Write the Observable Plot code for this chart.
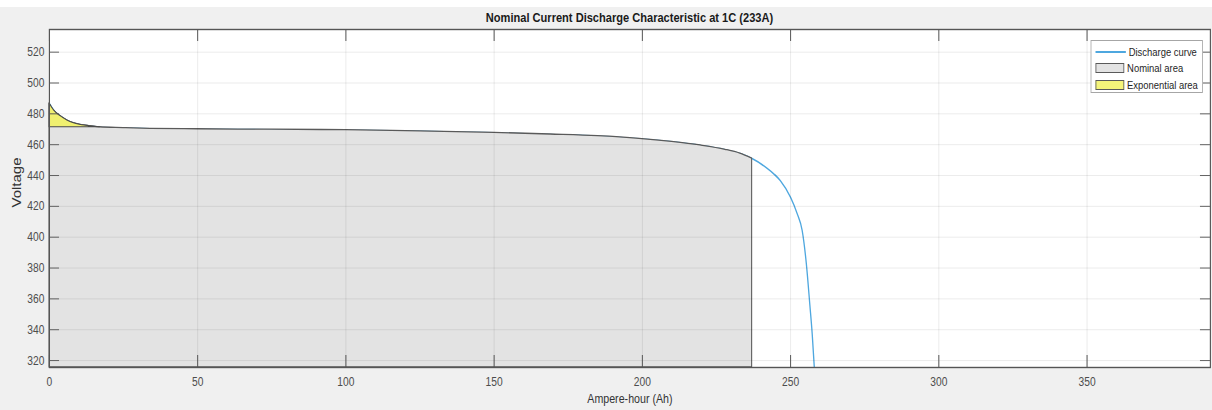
<!DOCTYPE html>
<html>
<head>
<meta charset="utf-8">
<script src="https://cdn.jsdelivr.net/npm/d3@7"></script>
<script src="https://cdn.jsdelivr.net/npm/@observablehq/plot@0.6"></script>
<style>
  html, body { margin: 0; padding: 0; overflow: hidden; }
  body { width: 1212px; height: 410px;
         background: linear-gradient(#ffffff 0 7px, #f0f0f0 7px); }
  #wrap { position: relative; height: 410px; transform-origin: 0 0; }
  #title { box-sizing: border-box; height: 24px; padding-top: 10px; line-height: 14px;
           text-align: center; font: bold 13.5px "Liberation Sans", Arial, sans-serif;
           color: #1a1a1a; white-space: nowrap; }
  #legend { position: absolute; top: 40px; height: 53px; box-sizing: border-box;
            background: #ffffff; border: 1px solid #a6a6a6; white-space: nowrap;
            font: 11.5px "Liberation Sans", Arial, sans-serif; color: #262626; }
  .row { position: absolute; left: 5px; height: 14px; display: flex; align-items: center; }
  .sw { width: 35px; height: 10px; margin-right: 3px; box-sizing: border-box; }
  .ln { width: 37px; height: 1.5px; background: #4ea7df; margin-right: 3px; }
</style>
</head>
<body>
<div id="wrap">
  <div id="title"></div>
  <div id="chart"></div>
  <div id="legend"></div>
</div>
<script>
// ---- data ----
const titleText = "Nominal Current Discharge Characteristic at 1C (233A)";
const xLabel = "Ampere-hour (Ah)";
const yLabel = "Voltage";
const legendLabels = ["Discharge curve", "Nominal area", "Exponential area"];

const ampHours = [0, 1.5, 3.7, 6, 8.2, 11, 13.8, 17, 25, 34, 50, 75, 100, 125, 150, 169, 185, 199, 210, 219.6, 228, 233, 237, 242, 244.5, 246.5, 250, 252.2, 253.9, 255.3, 256.5, 257.3, 258];
const voltages = [486.7, 482.2, 478.5, 475.7, 473.9, 472.6, 472.0, 471.3, 470.8, 470.3, 470.0, 469.7, 469.4, 468.6, 467.7, 466.6, 465.5, 463.8, 461.8, 459.5, 456.7, 454.2, 451.0, 444.8, 440.8, 436.8, 425.8, 415.4, 404.4, 383.0, 356.0, 337.0, 315.5];

const nominalEnd = 237;     // end of nominal area (Ah)
const expEnd = 17;          // end of exponential area (Ah)
const vExp = 471.3;         // exponential area bottom voltage

const xTicks = [0, 50, 100, 150, 200, 250, 300, 350];
const yTicks = [320, 340, 360, 380, 400, 420, 440, 460, 480, 500, 520];
const xDomain = [0, 391.6];
const yDomain = [315.5, 534.7];

// ---- build ----
const curve = ampHours.map((a, i) => ({ah: a, v: voltages[i]}));
const nominal = curve.filter(d => d.ah <= nominalEnd);
const expo = curve.filter(d => d.ah <= expEnd);

// the reference is horizontally compressed; draw wider and squeeze
const S = 0.82;
const W = 1212 / S, H = 386, ML = 49 / S, MR = 2 / S, MT = 5, MB = 43;
const innerW = W - ML - MR, innerH = H - MT - MB;
const axisColor = "#555555";
const font = '"Liberation Sans", Arial, sans-serif';

const wrap = document.getElementById("wrap");
wrap.style.width = W + "px";
wrap.style.transform = `scaleX(${S})`;
const title = document.getElementById("title");
title.style.paddingLeft = ML + "px";
title.style.paddingRight = MR + "px";
title.textContent = titleText;

const chart = Plot.plot({
  width: W, height: H,
  marginLeft: ML, marginRight: MR, marginTop: MT, marginBottom: MB,
  style: {background: "transparent", fontFamily: font, fontSize: "12px", color: "#4d4d4d"},
  x: {domain: xDomain, axis: null},
  y: {domain: yDomain, axis: null},
  marks: [
    Plot.frame({fill: "#ffffff", stroke: null}),
    Plot.line(curve, {x: "ah", y: "v", stroke: "#4ea7df", strokeWidth: 1.6, curve: "monotone-x", clip: true}),
    Plot.areaY(nominal, {x: "ah", y1: yDomain[0], y2: "v", curve: "monotone-x", fill: "#e3e3e3", stroke: "#5a5a5a", strokeWidth: 1.3}),
    Plot.areaY(expo, {x: "ah", y1: vExp, y2: "v", curve: "monotone-x", fill: "#f0f070", stroke: "#4a4a4a", strokeWidth: 1.1}),
    Plot.gridX(xTicks, {stroke: "#000", strokeOpacity: 0.09}),
    Plot.gridY(yTicks, {stroke: "#000", strokeOpacity: 0.09}),
    Plot.ruleX(xTicks, {x: d => d, insetTop: innerH - 12, stroke: axisColor, strokeWidth: 1.2}),
    Plot.ruleX(xTicks, {x: d => d, insetBottom: innerH - 12, stroke: axisColor, strokeWidth: 1.2}),
    Plot.ruleY(yTicks, {y: d => d, insetRight: innerW - 10 / S, stroke: axisColor}),
    Plot.ruleY(yTicks, {y: d => d, insetLeft: innerW - 10 / S, stroke: axisColor}),
    Plot.frame({stroke: axisColor, strokeWidth: 1.4}),
    Plot.axisX(xTicks, {tickSize: 0, tickPadding: 10, label: null, fontSize: 12.5, fill: "#4d4d4d"}),
    Plot.axisY(yTicks, {tickSize: 0, tickPadding: 5 / S, label: null, fontSize: 12.5, fill: "#4d4d4d"}),
    Plot.text([xLabel], {text: d => d, frameAnchor: "bottom", dy: 36, fontSize: 13, fill: "#333333"}),
    Plot.text([yLabel], {text: d => d, frameAnchor: "left", rotate: -90, dx: -32 / S, dy: 9, fontSize: 15, fill: "#333333"})
  ]
});
document.getElementById("chart").appendChild(chart);

// ---- legend ----
const legend = document.getElementById("legend");
legend.style.left = (1091 / S) + "px";
legend.style.width = (112 / S) + "px";
const swatches = [
  '<span class="ln"></span>',
  '<span class="sw" style="background:#e3e3e3;border:1.3px solid #5a5a5a"></span>',
  '<span class="sw" style="background:#f5f57a;border:1.3px solid #5a5a5a"></span>'
];
const tops = [4, 20, 37];
legendLabels.forEach((lab, i) => {
  const row = document.createElement("div");
  row.className = "row";
  row.style.top = tops[i] + "px";
  row.innerHTML = swatches[i] + '<span></span>';
  row.lastChild.textContent = lab;
  legend.appendChild(row);
});
</script>
</body>
</html>
